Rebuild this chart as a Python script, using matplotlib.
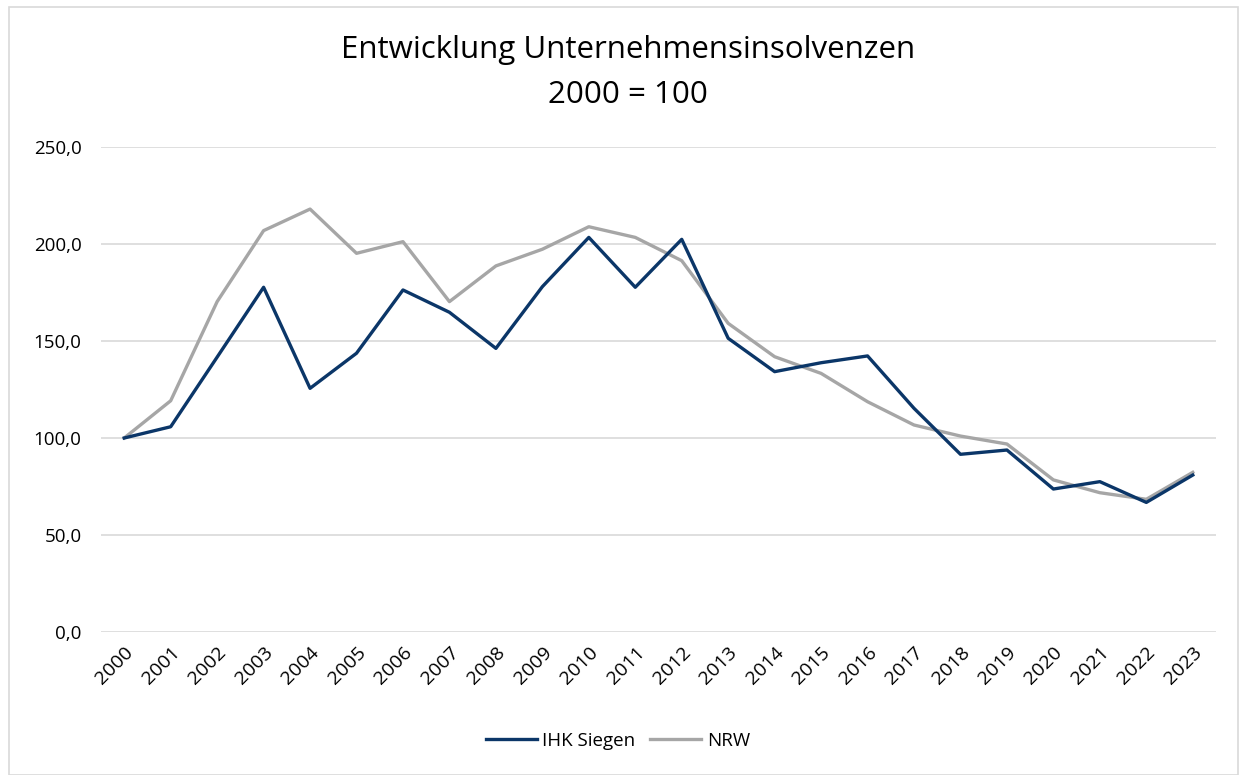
import matplotlib
matplotlib.use("Agg")
import matplotlib.pyplot as plt
from matplotlib.patches import Rectangle

years = [str(y) for y in range(2000, 2024)]
ihk_siegen = [100.0, 105.8, 141.7, 177.7, 125.6, 143.7, 176.3, 164.8, 146.2, 178.0,
              203.4, 177.7, 202.4, 151.4, 134.2, 138.8, 142.3, 115.3, 91.6, 93.8,
              73.7, 77.5, 66.8, 80.9]
nrw = [100.0, 119.2, 170.3, 206.9, 218.0, 195.2, 201.2, 170.3, 188.7, 197.3,
       208.9, 203.4, 191.4, 159.1, 141.9, 133.3, 118.7, 106.7, 101.0, 96.9,
       78.4, 71.8, 68.4, 82.3]
yticks = [0, 50, 100, 150, 200, 250]
ytick_labels = ["0,0", "50,0", "100,0", "150,0", "200,0", "250,0"]

plt.rcParams['font.family'] = ['Open Sans', 'DejaVu Sans']

W, H = 1246, 775
fig = plt.figure(figsize=(W/100, H/100), dpi=100)
fig.patch.set_facecolor("white")
fig.add_artist(Rectangle((9/W, 0), (1238-9)/W, (775-7)/H, transform=fig.transFigure,
                         fill=False, edgecolor="#d9d9d9", linewidth=1.2))

ax = fig.add_axes([101/W, 1-632/H, (1216-101)/W, (632-147)/H])
x = list(range(len(years)))
ax.plot(x, ihk_siegen, color="#0b3668", lw=2.4, label="IHK Siegen", zorder=3)
ax.plot(x, nrw, color="#a6a6a6", lw=2.4, label="NRW", zorder=2)
ax.set_xlim(-0.5, len(years)-0.5)
ax.set_ylim(0, 250)
ax.set_yticks(yticks)
ax.set_yticklabels(ytick_labels)
ax.set_xticks(x)
ax.set_xticklabels(years, rotation=45, ha="right", rotation_mode="anchor")
ax.tick_params(axis="both", length=0, labelsize=13.5, colors="black")
ax.tick_params(axis="x", labelsize=14)
ax.tick_params(axis="y", pad=14)
ax.tick_params(axis="x", pad=8)
ax.grid(axis="y", color="#d9d9d9", lw=1.2)
ax.set_axisbelow(True)
for s in ax.spines.values():
    s.set_visible(False)

fig.text(0.504, 1-50/H, "Entwicklung Unternehmensinsolvenzen", ha="center", va="center", fontsize=22.5)
fig.text(0.504, 1-95/H, "2000 = 100", ha="center", va="center", fontsize=22.5)

ax.legend(loc="center", bbox_to_anchor=(618/W, 1-741/H), bbox_transform=fig.transFigure,
          ncol=2, frameon=False, fontsize=13.5, handlelength=2.7, columnspacing=0.8,
          handletextpad=0.3)

fig.savefig("out.png", dpi=100)
